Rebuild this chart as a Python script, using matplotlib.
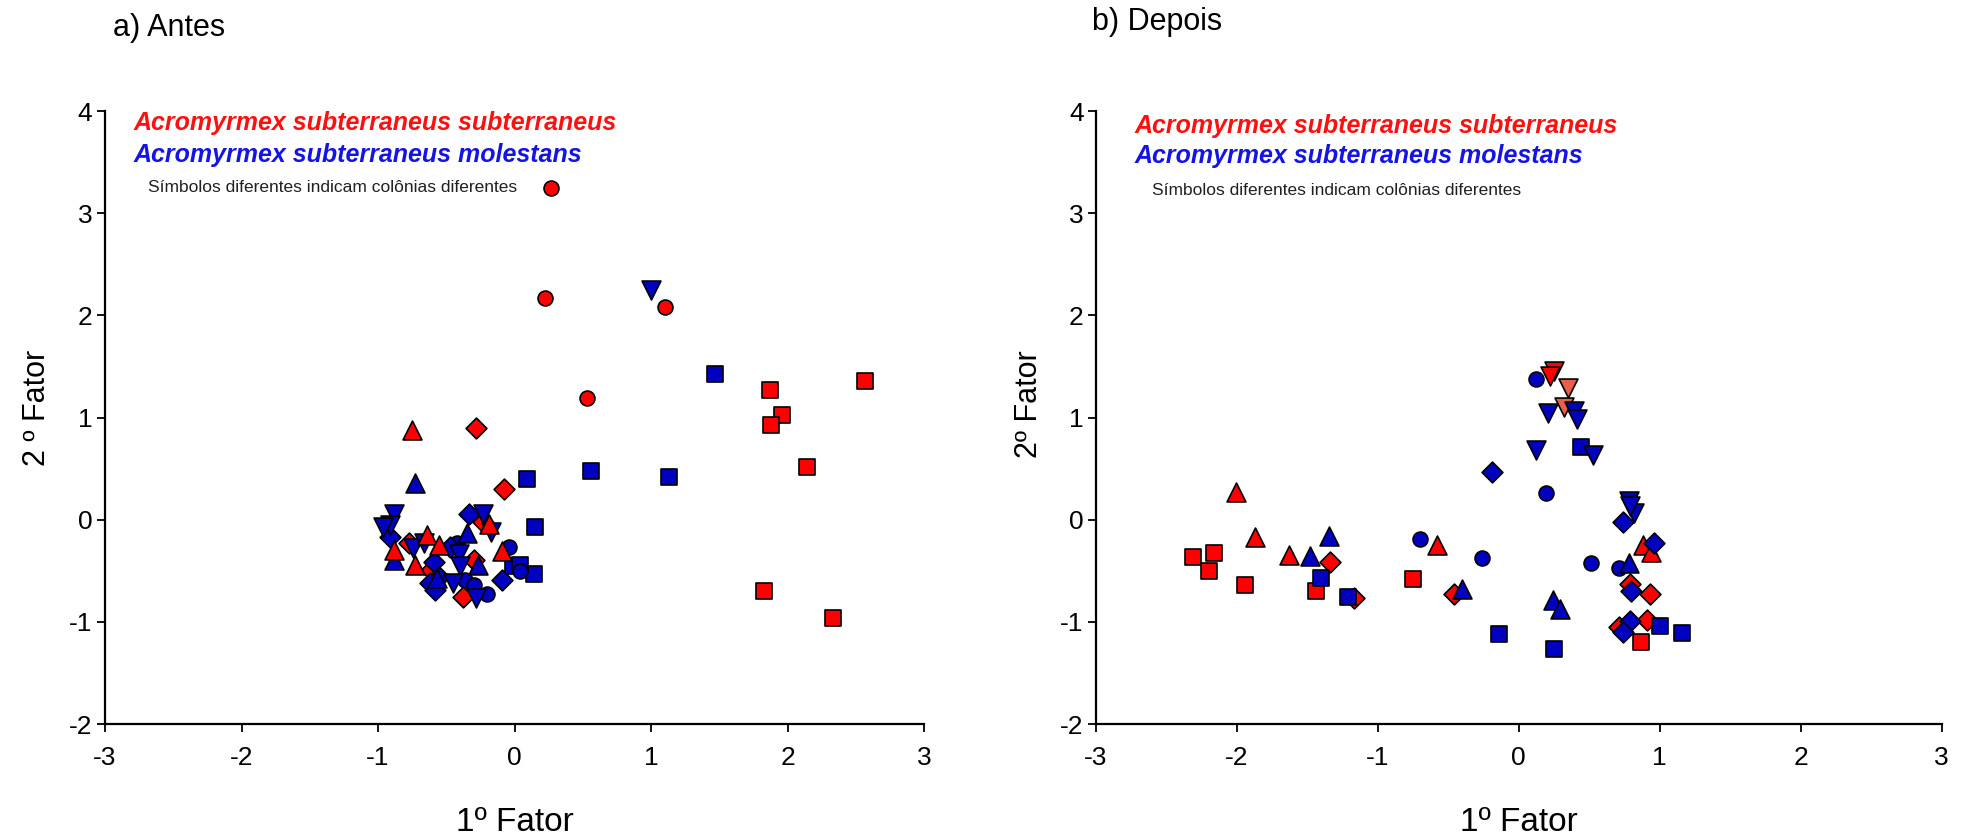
import matplotlib
matplotlib.use("Agg")
import matplotlib.pyplot as plt

plt.rcParams['font.family'] = ['Liberation Sans', 'DejaVu Sans']

# ---------------- Data: panel a) Antes ----------------
a_red_circle_x = [0.27, 0.22, 1.10, 0.53]
a_red_circle_y = [3.25, 2.17, 2.08, 1.19]
a_red_square_x = [1.87, 2.57, 1.96, 1.88, 2.14, 1.83, 2.33]
a_red_square_y = [1.27, 1.36, 1.02, 0.93, 0.52, -0.70, -0.96]
a_red_tri_x = [-0.75, -0.88, -0.64, -0.55, -0.73, -0.19, -0.09]
a_red_tri_y = [0.88, -0.30, -0.15, -0.25, -0.44, -0.04, -0.31]
a_red_diam_x = [-0.28, -0.08, -0.23, -0.38, -0.61, -0.30, -0.77]
a_red_diam_y = [0.90, 0.30, -0.02, -0.76, -0.49, -0.39, -0.23]

a_blue_square_x = [1.47, 0.56, 1.13, 0.09, 0.15, 0.14, -0.01, 0.04]
a_blue_square_y = [1.43, 0.48, 0.42, 0.40, -0.075, -0.53, -0.45, -0.44]
a_blue_circle_x = [-0.04, 0.04, -0.42, -0.36, -0.30, -0.20]
a_blue_circle_y = [-0.27, -0.50, -0.23, -0.59, -0.64, -0.73]
a_blue_tri_x = [-0.73, -0.88, -0.35, -0.27, -0.57]
a_blue_tri_y = [0.36, -0.39, -0.13, -0.44, -0.57]
a_blue_tridown_x = [1.00, -0.88, -0.91, -0.96, -0.74, -0.66, -0.41, -0.40, -0.23, -0.17, -0.45, -0.28]
a_blue_tridown_y = [2.25, 0.06, -0.05, -0.07, -0.28, -0.23, -0.34, -0.45, 0.06, -0.12, -0.62, -0.77]
a_blue_diam_x = [-0.91, -0.59, -0.55, -0.62, -0.58, -0.47, -0.33, -0.09]
a_blue_diam_y = [-0.17, -0.41, -0.56, -0.62, -0.69, -0.27, 0.06, -0.59]

# ---------------- Data: panel b) Depois ----------------
b_red_square_x = [-2.31, -2.16, -2.20, -1.94, -1.44, -0.75, 0.87]
b_red_square_y = [-0.37, -0.33, -0.50, -0.64, -0.70, -0.58, -1.20]
b_red_tri_x = [-2.01, -1.87, -1.63, -0.58, 0.88, 0.94]
b_red_tri_y = [0.27, -0.17, -0.35, -0.25, -0.25, -0.32]
b_red_diam_x = [-1.34, -1.17, -0.46, 0.79, 0.93, 0.91, 0.71]
b_red_diam_y = [-0.41, -0.77, -0.73, -0.63, -0.73, -0.98, -1.05]
b_red_tridown_x = [0.25, 0.22]
b_red_tridown_y = [1.46, 1.41]
b_salmon_tridown_x = [0.35, 0.32]
b_salmon_tridown_y = [1.29, 1.10]

b_blue_circle_x = [0.12, -0.70, -0.26, 0.19, 0.51, 0.71]
b_blue_circle_y = [1.38, -0.19, -0.38, 0.26, -0.42, -0.47]
b_blue_square_x = [-1.40, -1.21, -0.14, 0.25, 0.44, 1.00, 1.16]
b_blue_square_y = [-0.57, -0.76, -1.12, -1.27, 0.71, -1.04, -1.11]
b_blue_tri_x = [-1.48, -1.35, -0.40, 0.24, 0.29, 0.78]
b_blue_tri_y = [-0.36, -0.16, -0.68, -0.79, -0.87, -0.42]
b_blue_tridown_x = [0.21, 0.39, 0.41, 0.53, 0.12, 0.78, 0.82, 0.79]
b_blue_tridown_y = [1.04, 1.06, 0.99, 0.63, 0.68, 0.18, 0.07, 0.13]
b_blue_diam_x = [-0.19, 0.74, 0.96, 0.80, 0.79, 0.74]
b_blue_diam_y = [0.47, -0.02, -0.23, -0.70, -0.99, -1.10]

xticks = [-3, -2, -1, 0, 1, 2, 3]
yticks = [-2, -1, 0, 1, 2, 3, 4]
species_red = "Acromyrmex subterraneus subterraneus"
species_blue = "Acromyrmex subterraneus molestans"
note = "Símbolos diferentes indicam colônias diferentes"

RED = '#ff0000'
BLUE = '#0000c0'
SALMON = '#e8604c'
SIZES = {'o': 115, 's': 145, '^': 185, 'v': 185, 'D': 112}


def pts(ax, x, y, marker, color):
    ax.scatter(x, y, marker=marker, s=SIZES[marker], facecolor=color,
               edgecolor='black', linewidth=1.2, zorder=3, clip_on=False)


fig = plt.figure(figsize=(19.68, 8.4), dpi=100)
axA = fig.add_axes([105 / 1968, 1 - 724 / 840, 819 / 1968, 613 / 840])
axB = fig.add_axes([1096 / 1968, 1 - 724 / 840, 845.5 / 1968, 613 / 840])

# panel a
pts(axA, a_red_circle_x, a_red_circle_y, 'o', RED)
pts(axA, a_red_square_x, a_red_square_y, 's', RED)
pts(axA, a_red_diam_x, a_red_diam_y, 'D', RED)
pts(axA, a_blue_square_x, a_blue_square_y, 's', BLUE)
pts(axA, a_blue_circle_x, a_blue_circle_y, 'o', BLUE)
pts(axA, a_blue_diam_x, a_blue_diam_y, 'D', BLUE)
pts(axA, a_blue_tridown_x, a_blue_tridown_y, 'v', BLUE)
pts(axA, a_blue_tri_x, a_blue_tri_y, '^', BLUE)
pts(axA, a_red_tri_x, a_red_tri_y, '^', RED)

# panel b
pts(axB, b_red_square_x, b_red_square_y, 's', RED)
pts(axB, b_red_tri_x, b_red_tri_y, '^', RED)
pts(axB, b_red_diam_x, b_red_diam_y, 'D', RED)
pts(axB, b_blue_circle_x, b_blue_circle_y, 'o', BLUE)
pts(axB, b_red_tridown_x, b_red_tridown_y, 'v', RED)
pts(axB, b_salmon_tridown_x, b_salmon_tridown_y, 'v', SALMON)
pts(axB, b_blue_square_x, b_blue_square_y, 's', BLUE)
pts(axB, b_blue_tri_x, b_blue_tri_y, '^', BLUE)
pts(axB, b_blue_tridown_x, b_blue_tridown_y, 'v', BLUE)
pts(axB, b_blue_diam_x, b_blue_diam_y, 'D', BLUE)

for ax in (axA, axB):
    ax.set_xlim(-3, 3)
    ax.set_ylim(-2, 4)
    ax.set_xticks(xticks)
    ax.set_yticks(yticks)
    ax.set_xticklabels([str(t) for t in xticks])
    ax.set_yticklabels([str(t) for t in yticks])
    for side in ('top', 'right'):
        ax.spines[side].set_visible(False)
    for side in ('left', 'bottom'):
        ax.spines[side].set_linewidth(1.6)
        ax.spines[side].set_color('black')
    ax.tick_params(axis='both', direction='out', length=6, width=1.3,
                   labelsize=19, colors='black')
    ax.tick_params(axis='x', pad=10)
    ax.tick_params(axis='y', pad=3)
    ax.set_xlabel("1º Fator", fontsize=24, va='bottom')
    ax.xaxis.set_label_coords(0.5, (724 - 838) / 613)

axA.set_ylabel("2 º Fator", fontsize=22)
axA.yaxis.set_label_coords(-0.0647, 0.515)
axB.set_ylabel("2º Fator", fontsize=22)
axB.yaxis.set_label_coords(-0.0615, 0.522)

# legend texts
LFS = 18
axA.text(-2.79, 3.81, species_red, color='#ff1010', fontsize=LFS,
         fontweight='bold', fontstyle='italic', va='baseline', ha='left')
axA.text(-2.79, 3.50, species_blue, color='#1414e6', fontsize=LFS,
         fontweight='bold', fontstyle='italic', va='baseline', ha='left')
axA.text(-2.685, 3.21, note, color='#202020', fontsize=12.5,
         va='baseline', ha='left')

axB.text(-2.727, 3.785, species_red, color='#ff1010', fontsize=LFS,
         fontweight='bold', fontstyle='italic', va='baseline', ha='left')
axB.text(-2.727, 3.49, species_blue, color='#1414e6', fontsize=LFS,
         fontweight='bold', fontstyle='italic', va='baseline', ha='left')
axB.text(-2.60, 3.18, note, color='#202020', fontsize=12.5,
         va='baseline', ha='left')

fig.text(113 / 1968, 1 - 28 / 840, "a) Antes", fontsize=22, va='center', ha='left')
fig.text(1092 / 1968, 1 - 22 / 840, "b) Depois", fontsize=22, va='center', ha='left')

fig.savefig("out.png", dpi=100, facecolor='white')
